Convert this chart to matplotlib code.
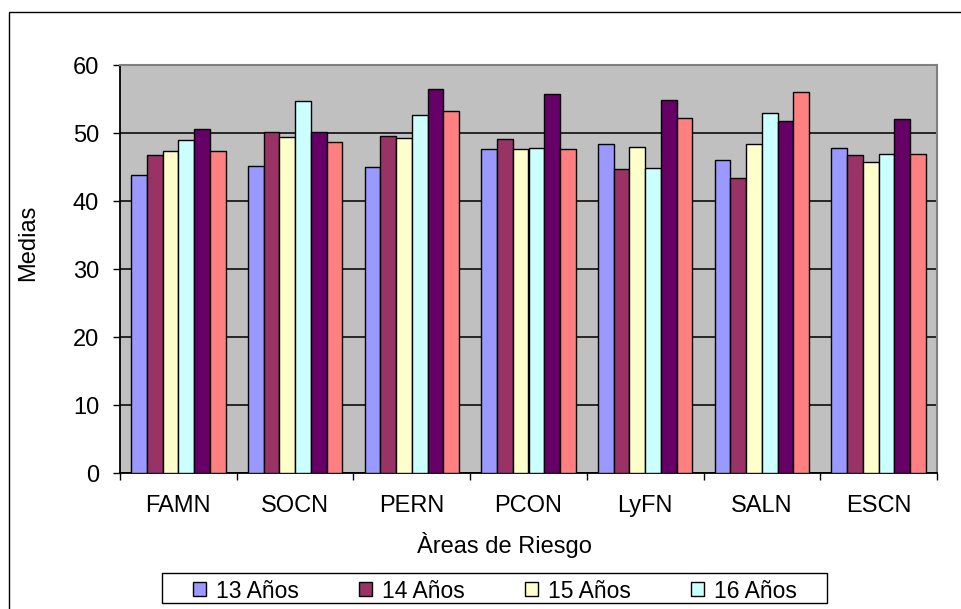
import numpy as np
import matplotlib
matplotlib.use("Agg")
import matplotlib.pyplot as plt
from matplotlib.patches import Rectangle

plt.rcParams['font.family'] = ['Liberation Sans', 'DejaVu Sans']

areas = ['FAMN', 'SOCN', 'PERN', 'PCON', 'LyFN', 'SALN', 'ESCN']
edades = ['13 Años', '14 Años', '15 Años', '16 Años', '17 Años', '18 Años']
colores = ['#9999FF', '#993366', '#FFFFCC', '#CCFFFF', '#660066', '#FF8080']

m13 = [43.8, 45.2, 45.0, 47.6, 48.4, 46.1, 47.8]
m14 = [46.7, 50.2, 49.6, 49.1, 44.7, 43.4, 46.7]
m15 = [47.3, 49.4, 49.2, 47.6, 48.0, 48.4, 45.8]
m16 = [48.9, 54.7, 52.7, 47.8, 44.9, 52.9, 46.9]
m17 = [50.6, 50.2, 56.5, 55.8, 54.9, 51.8, 52.0]
m18 = [47.3, 48.7, 53.3, 47.6, 52.2, 56.0, 46.9]
medias = [m13, m14, m15, m16, m17, m18]

W, H = 962, 609
fig = plt.figure(figsize=(W / 100, H / 100), dpi=100)
ax = fig.add_axes([120 / W, 1 - 473 / H, 817 / W, 408 / H])
ax.set_facecolor('#C0C0C0')

x = np.arange(len(areas))
w = 0.135
handles = []
for i, serie in enumerate(medias):
    off = (i - 2.5) * w
    b = ax.bar(x + off, serie, w, color=colores[i], edgecolor='black',
               linewidth=1.0, zorder=3)
    handles.append(b)

ax.set_xlim(-0.5, len(areas) - 0.5)
ax.set_ylim(0, 60)
ax.set_yticks(range(0, 61, 10))
ax.yaxis.grid(True, color='#1a1a1a', linewidth=1.3, zorder=1)
ax.set_axisbelow(True)

# category separators as tick marks, names centred in between
ax.set_xticks(np.arange(-0.5, len(areas), 1.0))
ax.set_xticklabels([])
ax.set_xticks(x, minor=True)
ax.set_xticklabels(areas, minor=True, fontsize=17)
ax.tick_params(axis='x', which='minor', length=0, pad=16)
ax.tick_params(axis='x', which='major', length=5, width=1, direction='out')
ax.tick_params(axis='y', length=5, width=1, direction='out', labelsize=17, pad=10)

for s in ['left', 'bottom']:
    ax.spines[s].set_color('black')
    ax.spines[s].set_linewidth(1.3)
for s in ['top', 'right']:
    ax.spines[s].set_color('#808080')
    ax.spines[s].set_linewidth(1.5)

ax.set_ylabel('Medias', fontsize=17)
ax.yaxis.label.set_va('center')
ax.yaxis.set_label_coords((28.5 - 120) / 817, (473 - 243) / 408)
ax.set_xlabel('Àreas de Riesgo', fontsize=17)
ax.xaxis.label.set_va('center')
ax.xaxis.set_label_coords((504.5 - 120) / 817, -(545 - 473) / 408)

leg = fig.legend(handles[:4], edades[:4], loc='center', ncol=4,
                 bbox_to_anchor=(494.8 / W, 1 - 591 / H), fontsize=16.5,
                 frameon=False, handlelength=0.57, handleheight=0.57,
                 handletextpad=0.44, columnspacing=2.62, borderpad=0)

# legend box and outer chart border
fig.patches.append(Rectangle((161.7 / W, 1 - 603.3 / H), 665 / W, 30 / H,
                             transform=fig.transFigure, fill=False,
                             edgecolor='black', linewidth=1.0))
fig.patches.append(Rectangle((9.3 / W, -0.05), 1.0, 1.05 - 11.7 / H,
                             transform=fig.transFigure, fill=False,
                             edgecolor='black', linewidth=1.0))

fig.savefig('out.png', dpi=100)
